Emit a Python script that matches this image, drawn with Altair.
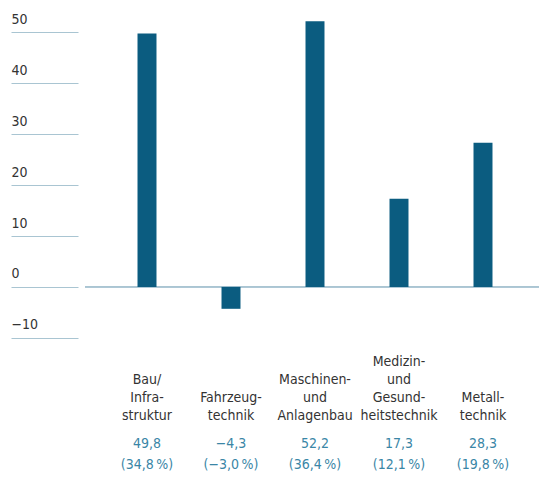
import altair as alt
import pandas as pd

# Branchen und Beiträge (Mrd. Euro) mit Anteil in Prozent
categories = ["Bau", "Fahrzeug", "Maschinen", "Medizin", "Metall"]
name_lines = [
    ["Bau/", "Infra-", "struktur"],
    ["Fahrzeug-", "technik"],
    ["Maschinen-", "und", "Anlagenbau"],
    ["Medizin-", "und", "Gesund-", "heitstechnik"],
    ["Metall-", "technik"],
]
values = [49.8, -4.3, 52.2, 17.3, 28.3]
value_labels = ["49,8", "\u22124,3", "52,2", "17,3", "28,3"]
share_labels = ["(34,8\u202f%)", "(\u22123,0\u202f%)", "(36,4\u202f%)", "(12,1\u202f%)", "(19,8\u202f%)"]
y_ticks = [-10, 0, 10, 20, 30, 40, 50]

df = pd.DataFrame({
    "cat": categories,
    "names": name_lines,
    "value": values,
    "vlabel": value_labels,
    "slabel": share_labels,
})

FONT = "DejaVu Sans Condensed"
BAR = "#0b5c80"
GRID = "#a9c5d2"
TEXT = "#333333"
VALUE = "#3a86a6"
LINE_H = 18

x = alt.X("cat:N", sort=categories,
          scale=alt.Scale(paddingInner=0.774, paddingOuter=0.387),
          axis=None)
y_scale = alt.Scale(domain=[-12, 54], nice=False, zero=False)

bars = alt.Chart(df).mark_bar(color=BAR).encode(
    x=x,
    y=alt.Y("value:Q", scale=y_scale,
            axis=alt.Axis(values=y_ticks, title=None, domain=False, grid=False,
                          ticks=True, tickSize=67, tickColor=GRID, tickWidth=1,
                          offset=27, labelAlign="left", labelPadding=0,
                          labelBaseline="alphabetic", labelOffset=-9,
                          labelFont=FONT, labelFontSize=14, labelColor=TEXT)),
)

zero_line = alt.Chart(df).mark_rule(color=GRID, strokeWidth=1).encode(
    y=alt.datum(0),
    x=alt.value(-20),
    x2=alt.value(434),
)

# category names are bottom-aligned: shift each block up by its extra lines
names = alt.Chart(df).transform_calculate(
    ypx=f"411 - (length(datum.names) - 1) * {LINE_H}"
).mark_text(
    font=FONT, fontSize=14, color=TEXT, baseline="bottom", lineHeight=LINE_H
).encode(x=x, y=alt.Y("ypx:Q", scale=None), text="names")

vals = alt.Chart(df).mark_text(
    font=FONT, fontSize=14, color=VALUE, baseline="middle"
).encode(x=x, y=alt.value(432), text="vlabel")

shares = alt.Chart(df).mark_text(
    font=FONT, fontSize=14, color=VALUE, baseline="middle"
).encode(x=x, y=alt.value(453), text="slabel")

chart = alt.layer(zero_line, bars, names, vals, shares).properties(
    width=420,
    height=336,
    autosize=alt.AutoSizeParams(type="none"),
    padding={"left": 105, "top": 12, "right": 14, "bottom": 140},
).configure(background="white").configure_view(stroke=None)

chart.save("out.html", embed_options={"renderer": "svg", "actions": False})
